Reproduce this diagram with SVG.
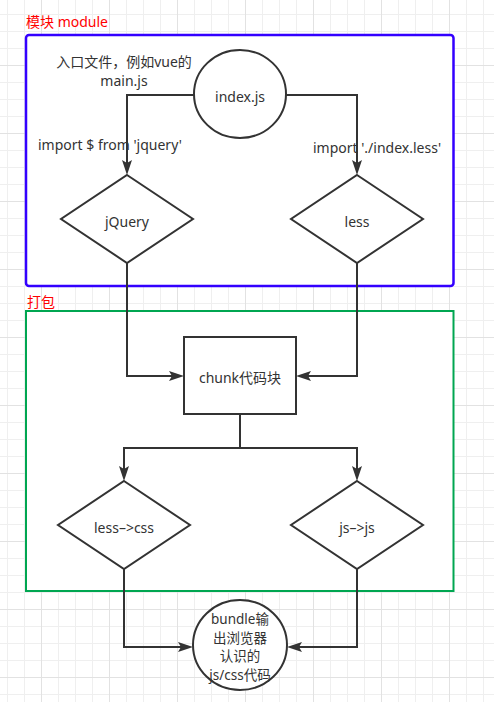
<svg xmlns="http://www.w3.org/2000/svg" width="494" height="702" viewBox="0 0 494 702">
<style>
text{font-family:"Noto Sans","Noto Sans CJK SC",sans-serif;font-size:14px;fill:#333;text-anchor:middle;dominant-baseline:central}
.red{fill:#ff0000;text-anchor:start}
.sm{font-size:13.5px}
.shape{fill:#fff;stroke:#333;stroke-width:2}
.conn{fill:none;stroke:#333;stroke-width:2}
</style>
<defs>
<pattern id="grid" patternUnits="userSpaceOnUse" x="41" y="65" width="68" height="68">
<path d="M17.5,0V68M34.5,0V68M51.5,0V68M0,17.5H68M0,34.5H68M0,51.5H68" stroke="#efefef" stroke-width="1" fill="none"/>
<path d="M0.5,0V68M0,0.5H68" stroke="#e2e2e2" stroke-width="1" fill="none"/>
</pattern>
<marker id="arr" markerUnits="userSpaceOnUse" markerWidth="18" markerHeight="14" refX="12" refY="7" orient="auto">
<path d="M0,2 L15,7 L0,12 L3,7 Z" fill="#333"/>
</marker>
</defs>
<rect width="494" height="702" fill="#fff"/>
<rect width="494" height="702" fill="url(#grid)"/>

<g id="module-group">
<rect x="26" y="35" width="427.5" height="251" rx="3" fill="#fff" stroke="#3300ff" stroke-width="2.5"/>
<text class="red" x="26" y="21">模块 module</text>
</g>
<g id="pack-group">
<rect x="26" y="311" width="427.5" height="280" fill="#fff" stroke="#00a651" stroke-width="2"/>
<text class="red" x="27" y="301">打包</text>
</g>

<g id="connectors">
<path class="conn" d="M194,95 H127 V172" marker-end="url(#arr)"/>
<path class="conn" d="M286,95 H357 V172" marker-end="url(#arr)"/>
<path class="conn" d="M127,263 V376 H181" marker-end="url(#arr)"/>
<path class="conn" d="M357,263 V376 H299" marker-end="url(#arr)"/>
<path class="conn" d="M240,414 V448 H124 V478" marker-end="url(#arr)"/>
<path class="conn" d="M240,448 H357 V478" marker-end="url(#arr)"/>
<path class="conn" d="M124,569 V647 H190" marker-end="url(#arr)"/>
<path class="conn" d="M357,569 V647 H290" marker-end="url(#arr)"/>
</g>

<g id="label-entry">
<text x="124" y="61">入口文件，例如vue的</text>
<text x="124" y="80">main.js</text>
</g>
<g id="label-import-jquery"><text x="110" y="144">import $ from 'jquery'</text></g>
<g id="label-import-less"><text x="377" y="147">import './index.less'</text></g>

<g id="index-js">
<ellipse class="shape" cx="240" cy="94" rx="46" ry="44"/>
<text x="240" y="96">index.js</text>
</g>
<g id="jquery">
<polygon class="shape" points="127,175 193,219 127,263 61,219"/>
<text x="127" y="221">jQuery</text>
</g>
<g id="less">
<polygon class="shape" points="357,175 423,219 357,263 291,219"/>
<text x="357" y="221">less</text>
</g>
<g id="chunk">
<rect class="shape" x="184" y="337" width="112" height="77"/>
<text x="240" y="377">chunk代码块</text>
</g>
<g id="less-css">
<polygon class="shape" points="124,481 190,525 124,569 58,525"/>
<text x="124" y="527">less–&gt;css</text>
</g>
<g id="js-js">
<polygon class="shape" points="357,481 423,525 357,569 291,525"/>
<text x="357" y="527">js–&gt;js</text>
</g>
<g id="bundle">
<ellipse class="shape" cx="240" cy="645" rx="47" ry="45"/>
<text class="sm" x="240" y="619">bundle输</text>
<text class="sm" x="240" y="637.5">出浏览器</text>
<text class="sm" x="240" y="656">认识的</text>
<text class="sm" x="240" y="674.5">js/css代码</text>
</g>
</svg>
